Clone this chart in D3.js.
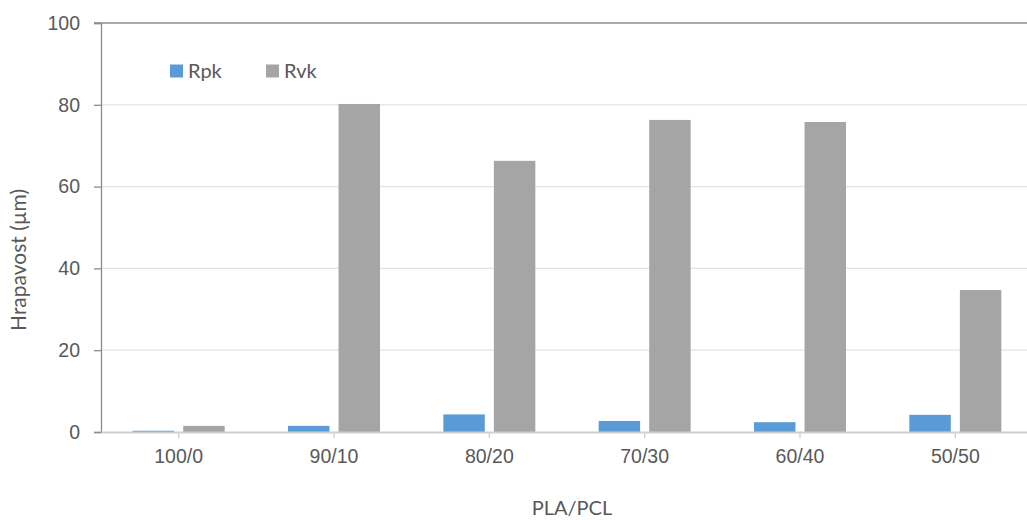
<!DOCTYPE html>
<html>
<head>
<meta charset="utf-8">
<script src="https://cdn.jsdelivr.net/npm/d3@7"></script>
<style>
  body { margin: 0; background: #fff; }
  svg { display: block; font-family: Lato, "Open Sans", sans-serif; }
</style>
</head>
<body>
<script>
// data
const categories = ["100/0", "90/10", "80/20", "70/30", "60/40", "50/50"];
const seriesNames = ["Rpk", "Rvk"];
const rpk = [0.3, 1.5, 4.3, 2.7, 2.4, 4.2];
const rvk = [1.5, 80.2, 66.3, 76.3, 75.8, 34.7];
const yTicks = [0, 20, 40, 60, 80, 100];
const colors = { Rpk: "#5b9bd5", Rvk: "#a5a5a5" };

const width = 1027, height = 520;
const margin = { top: 23, right: -6, bottom: 88, left: 101 };
const fontSize = "19.5px";

const svg = d3.select("body").append("svg")
    .attr("width", width)
    .attr("height", height);

const x = d3.scaleBand()
    .domain(categories)
    .range([margin.left, width - margin.right]);

const groupW = 92;
const x1 = d3.scaleBand()
    .domain(seriesNames)
    .range([0, groupW])
    .paddingInner(0.18);

const y = d3.scaleLinear()
    .domain([0, 100])
    .range([height - margin.bottom, margin.top]);

// gridlines
svg.append("g")
    .selectAll("line")
    .data(yTicks.filter(t => t > 0 && t < 100))
    .join("line")
    .attr("x1", margin.left)
    .attr("x2", width)
    .attr("y1", d => y(d))
    .attr("y2", d => y(d))
    .attr("stroke", "#e3e3e3")
    .attr("stroke-width", 1.3);

// top line at 100
svg.append("line")
    .attr("x1", margin.left - 7)
    .attr("x2", width)
    .attr("y1", y(100))
    .attr("y2", y(100))
    .attr("stroke", "#8c8c8c")
    .attr("stroke-width", 1.3);

// bars
const rows = categories.map((c, i) => ({ cat: c, Rpk: rpk[i], Rvk: rvk[i] }));
const groups = svg.append("g")
    .selectAll("g")
    .data(rows)
    .join("g")
    .attr("transform", d => `translate(${x(d.cat) + x.bandwidth() / 2 - groupW / 2},0)`);

groups.selectAll("rect")
    .data(d => seriesNames.map(k => ({ key: k, value: d[k] })))
    .join("rect")
    .attr("x", d => x1(d.key))
    .attr("width", x1.bandwidth())
    .attr("y", d => y(d.value))
    .attr("height", d => y(0) - y(d.value))
    .attr("fill", d => colors[d.key]);

// y axis
const yAxis = svg.append("g")
    .attr("transform", `translate(${margin.left},0)`)
    .call(d3.axisLeft(y).tickValues(yTicks).tickSize(7).tickPadding(14));
yAxis.select(".domain").attr("stroke", "#8c8c8c").attr("stroke-width", 1.3);
yAxis.selectAll(".tick line").attr("stroke", "#8c8c8c").attr("stroke-width", 1.3);
yAxis.selectAll("text").attr("fill", "#595959").style("font-size", fontSize);

// x axis
const xAxis = svg.append("g")
    .attr("transform", `translate(0,${y(0)})`)
    .call(d3.axisBottom(x).tickSize(6).tickPadding(11).tickSizeOuter(0));
xAxis.select(".domain").attr("stroke", "#cfcfcf").attr("stroke-width", 2);
xAxis.selectAll(".tick line").attr("stroke", "#cfcfcf").attr("stroke-width", 1.3);
xAxis.selectAll("text").attr("fill", "#595959").style("font-size", fontSize);

// axis titles
svg.append("text")
    .attr("x", 572)
    .attr("y", 515)
    .attr("text-anchor", "middle")
    .attr("fill", "#595959")
    .style("font-size", "20px")
    .text("PLA/PCL");

svg.append("text")
    .attr("transform", "translate(26,260) rotate(-90)")
    .attr("text-anchor", "middle")
    .attr("fill", "#595959")
    .style("font-size", "21px")
    .text("Hrapavost (µm)");

// legend
const legend = svg.append("g").attr("transform", "translate(170,71)");
const legendX = [0, 96];
seriesNames.forEach((k, i) => {
    legend.append("rect")
        .attr("x", legendX[i])
        .attr("y", -6.5)
        .attr("width", 13)
        .attr("height", 13)
        .attr("fill", colors[k]);
    legend.append("text")
        .attr("x", legendX[i] + 18)
        .attr("y", 7)
        .attr("fill", "#595959")
        .style("font-size", "20px")
        .text(k);
});
</script>
</body>
</html>
